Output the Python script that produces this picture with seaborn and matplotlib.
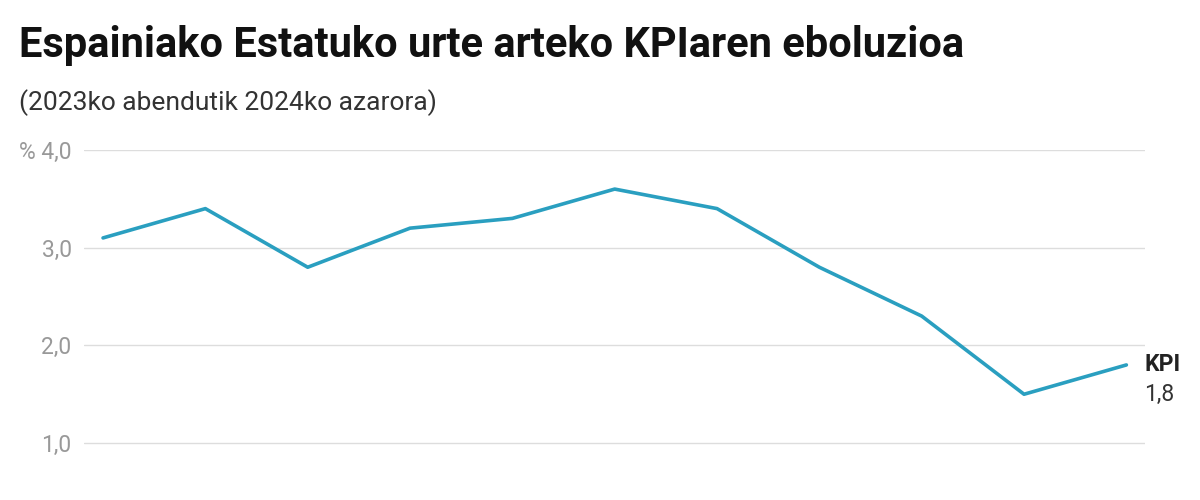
import matplotlib
matplotlib.use("Agg")
import matplotlib.pyplot as plt
import seaborn as sns
import pandas as pd

months = ["2023-12", "2024-01", "2024-02", "2024-03", "2024-04", "2024-05",
          "2024-06", "2024-07", "2024-08", "2024-09", "2024-10"]
kpi = [3.1, 3.4, 2.8, 3.2, 3.3, 3.6, 3.4, 2.8, 2.3, 1.5, 1.8]
ytick_vals = [1.0, 2.0, 3.0, 4.0]
ytick_labels = ["1,0", "2,0", "3,0", "% 4,0"]

title = "Espainiako Estatuko urte arteko KPIaren eboluzioa"
subtitle = "(2023ko abendutik 2024ko azarora)"

sns.set_theme(style="white")
plt.rcParams["font.family"] = ["Roboto", "DejaVu Sans"]

df = pd.DataFrame({"idx": range(len(months)), "month": months, "kpi": kpi})

fig = plt.figure(figsize=(12, 5), dpi=100)
ax = fig.add_axes([0.07, 0.0, 0.884, 0.70])
sns.lineplot(data=df, x="idx", y="kpi", ax=ax, color="#2a9fc0", linewidth=2.6)

ax.set_xlim(-0.186, 10.18)
ax.set_ylim(4.0 - 350 / 97.7, 4.0)
ax.set_yticks(ytick_vals)
ax.set_yticklabels(ytick_labels)
ax.set_xticks([])
ax.set_xlabel("")
ax.set_ylabel("")
ax.grid(axis="y", color="#dddddd", linewidth=1)
ax.tick_params(axis="y", length=0, pad=9, labelsize=16.5, labelcolor="#999999")
for s in ax.spines.values():
    s.set_visible(False)

last_x = df["idx"].iloc[-1]
last_y = df["kpi"].iloc[-1]
ax.annotate("KPI", xy=(last_x, last_y), xytext=(13, 0), textcoords="offset points",
            fontsize=16.5, fontweight="bold", color="#222222", va="center", ha="left",
            annotation_clip=False)
ax.annotate(f"{last_y:.1f}".replace(".", ","), xy=(last_x, last_y), xytext=(13, -21),
            textcoords="offset points", fontsize=16.5, color="#333333", va="center",
            ha="left", annotation_clip=False)

fig.text(0.016, 0.91, title, fontsize=30, fontweight="bold", color="#111111", va="center", ha="left")
fig.text(0.016, 0.795, subtitle, fontsize=19, color="#333333", va="center", ha="left")

fig.savefig("out.png", dpi=100)
